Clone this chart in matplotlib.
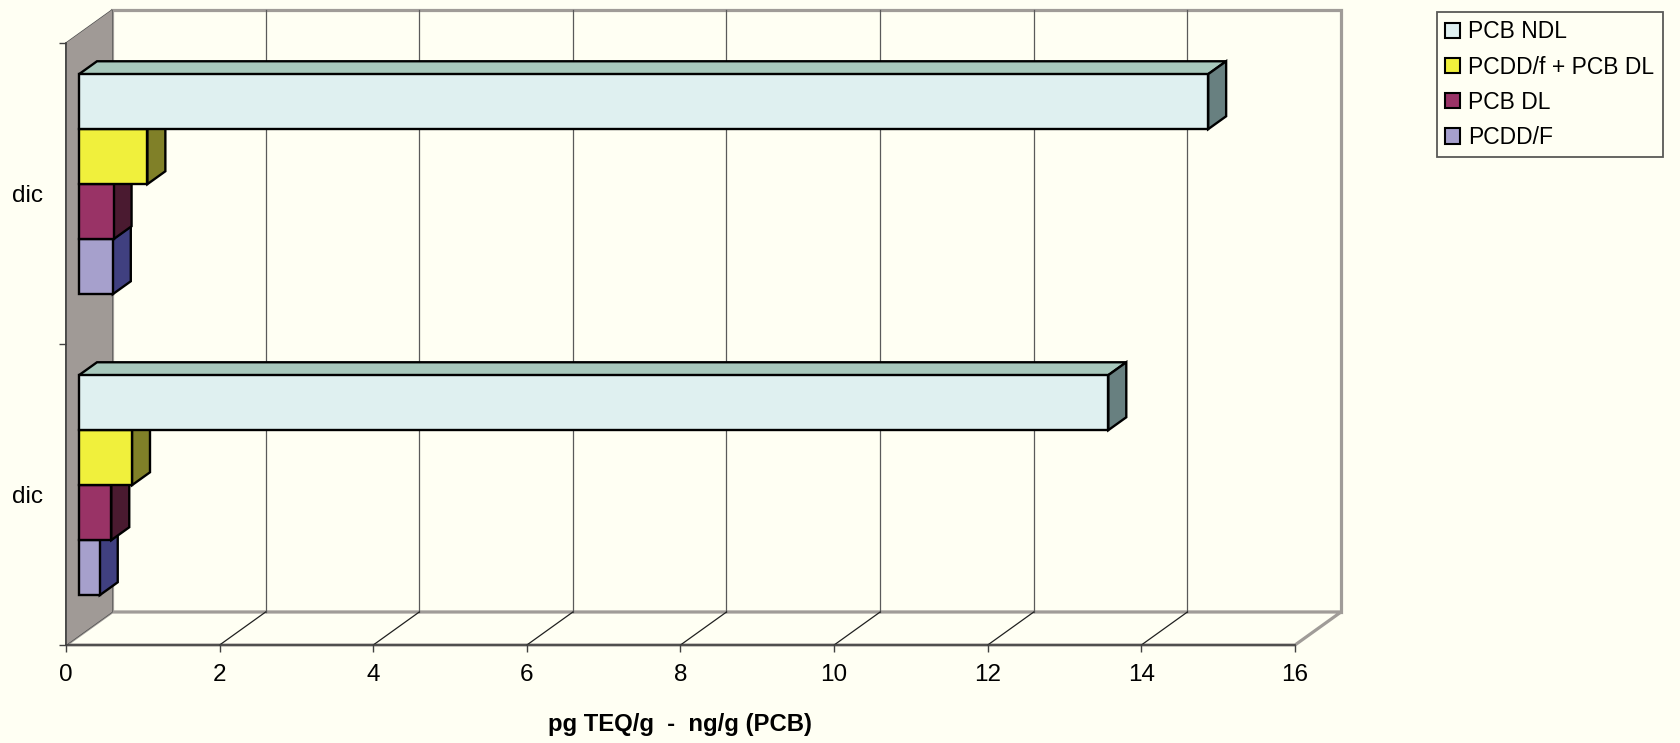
import matplotlib
matplotlib.use("Agg")
import matplotlib.pyplot as plt
from matplotlib.patches import Polygon, Patch
from matplotlib.lines import Line2D

plt.rcParams['font.family'] = ['Liberation Sans', 'DejaVu Sans']

# ---------------- data ----------------
categories = ["dic", "dic"]                      # bottom to top
series_names = ["PCB NDL", "PCDD/f + PCB DL", "PCB DL", "PCDD/F"]
pcb_ndl = [13.4, 14.7]
pcdd_pcb_dl = [0.69, 0.89]
pcb_dl = [0.42, 0.45]
pcdd_f = [0.27, 0.44]
x_ticks = [0, 2, 4, 6, 8, 10, 12, 14, 16]
x_label = "pg TEQ/g  -  ng/g (PCB)"

# ---------------- style ----------------
BG = "#FFFFF3"
front_colors = ["#DFF0F0", "#F0F03C", "#993366", "#A6A0CC"]
top_colors = ["#A8C8BC", "#C0C030", "#7A2850", "#8480B0"]
side_colors = ["#688080", "#808028", "#4A1A30", "#404080"]
values = [pcb_ndl, pcdd_pcb_dl, pcb_dl, pcdd_f]

W, H = 1680, 743
fig = plt.figure(figsize=(W / 100, H / 100), dpi=100)
fig.patch.set_facecolor(BG)
ax_l, ax_r, ax_t, ax_b = 66, 1295, 43, 645
ax = fig.add_axes([ax_l / W, (H - ax_b) / H, (ax_r - ax_l) / W, (ax_b - ax_t) / H])
ax.set_facecolor("none")
xmax = x_ticks[-1]
ncat = len(categories)
ax.set_xlim(0, xmax)
ax.set_ylim(0, ncat)

# depth offsets (pixels -> data units)
px_x = (ax_r - ax_l) / xmax
px_y = (ax_b - ax_t) / ncat
DX = 46 / px_x
DY = 33 / px_y


def pt(x, y, d):
    return (x + d * DX, y + d * DY)


# walls & floor
ax.add_patch(Polygon([pt(0, 0, 0), pt(0, ncat, 0), pt(0, ncat, 1), pt(0, 0, 1)],
                     closed=True, fc="#A09A96", ec="#505050", lw=1.0, zorder=0.5, clip_on=False))
ax.add_patch(Polygon([pt(0, 0, 1), pt(0, ncat, 1), pt(xmax, ncat, 1), pt(xmax, 0, 1)],
                     closed=True, fc=BG, ec="#A09C98", lw=2.3, zorder=0.4, clip_on=False))
ax.add_patch(Polygon([pt(0, 0, 0), pt(xmax, 0, 0), pt(xmax, 0, 1), pt(0, 0, 1)],
                     closed=True, fc=BG, ec="#A09C98", lw=2.3, zorder=0.45, clip_on=False))
ax.add_patch(Polygon([pt(0, 0, 0), pt(0, ncat, 0), pt(0, ncat, 1), pt(0, 0, 1)],
                     closed=True, fc="#A09A96", ec="none", lw=0, zorder=0.6, clip_on=False))

# grid lines
for v in x_ticks[1:-1]:
    a, b = pt(v, 0, 1), pt(v, ncat, 1)
    ax.add_line(Line2D([a[0], b[0]], [a[1], b[1]], color="#5A5A5A", lw=0.9, zorder=0.7, clip_on=False))
    a, b = pt(v, 0, 0), pt(v, 0, 1)
    ax.add_line(Line2D([a[0], b[0]], [a[1], b[1]], color="#202020", lw=0.9, zorder=0.7, clip_on=False))

# bars
h = 55 / px_y
d0, d1 = 13 / 46, 31 / 46
z = 2
for i in range(ncat):
    c = i + 0.5
    top_of_group = c + 2 * h
    for j in reversed(range(len(series_names))):
        v = values[j][i]
        yt = top_of_group - j * h
        yb = yt - h
        front = [pt(0, yb, d0), pt(v, yb, d0), pt(v, yt, d0), pt(0, yt, d0)]
        top = [pt(0, yt, d0), pt(v, yt, d0), pt(v, yt, d1), pt(0, yt, d1)]
        side = [pt(v, yb, d0), pt(v, yt, d0), pt(v, yt, d1), pt(v, yb, d1)]
        for poly, col in ((top, top_colors[j]), (side, side_colors[j]), (front, front_colors[j])):
            ax.add_patch(Polygon(poly, closed=True, fc=col, ec="black", lw=1.7,
                                 joinstyle="miter", zorder=z, clip_on=False))
        z += 0.01

# axes / ticks
for s in ("top", "right"):
    ax.spines[s].set_visible(False)
for s in ("left", "bottom"):
    ax.spines[s].set_color("#404040")
    ax.spines[s].set_linewidth(1.2)
    ax.spines[s].set_zorder(1)

ax.set_xticks(x_ticks)
ax.set_xticklabels([str(t) for t in x_ticks])
ax.tick_params(axis="x", direction="out", length=5, width=1, color="#404040",
               labelsize=17.5, pad=8.5)
ax.set_yticks([i + 0.5 for i in range(ncat)])
ax.set_yticklabels(categories)
ax.set_yticks(list(range(ncat + 1)), minor=True)
ax.tick_params(axis="y", which="major", length=0, labelsize=17.5, pad=16.5)
ax.tick_params(axis="y", which="minor", direction="out", length=5, width=1, color="#404040")

ax.set_xlabel(x_label, fontsize=17.2, fontweight="bold")
ax.xaxis.label.set_verticalalignment("center")
ax.xaxis.set_label_coords(0.5, -80 / (ax_b - ax_t))

handles = [Patch(fc=front_colors[j], ec="black", lw=1.5) for j in range(len(series_names))]
leg = fig.legend(handles, series_names, loc="upper left",
                 bbox_to_anchor=(1437 / W, 1 - 12 / H), bbox_transform=fig.transFigure,
                 borderaxespad=0, fontsize=16.5, frameon=True, fancybox=False,
                 handlelength=0.65, handleheight=0.65, handletextpad=0.35,
                 labelspacing=0.53, borderpad=0.37)
leg.get_frame().set_edgecolor("#303030")
leg.get_frame().set_linewidth(1.3)
leg.get_frame().set_facecolor(BG)

fig.savefig("out.png", dpi=100, facecolor=BG)
